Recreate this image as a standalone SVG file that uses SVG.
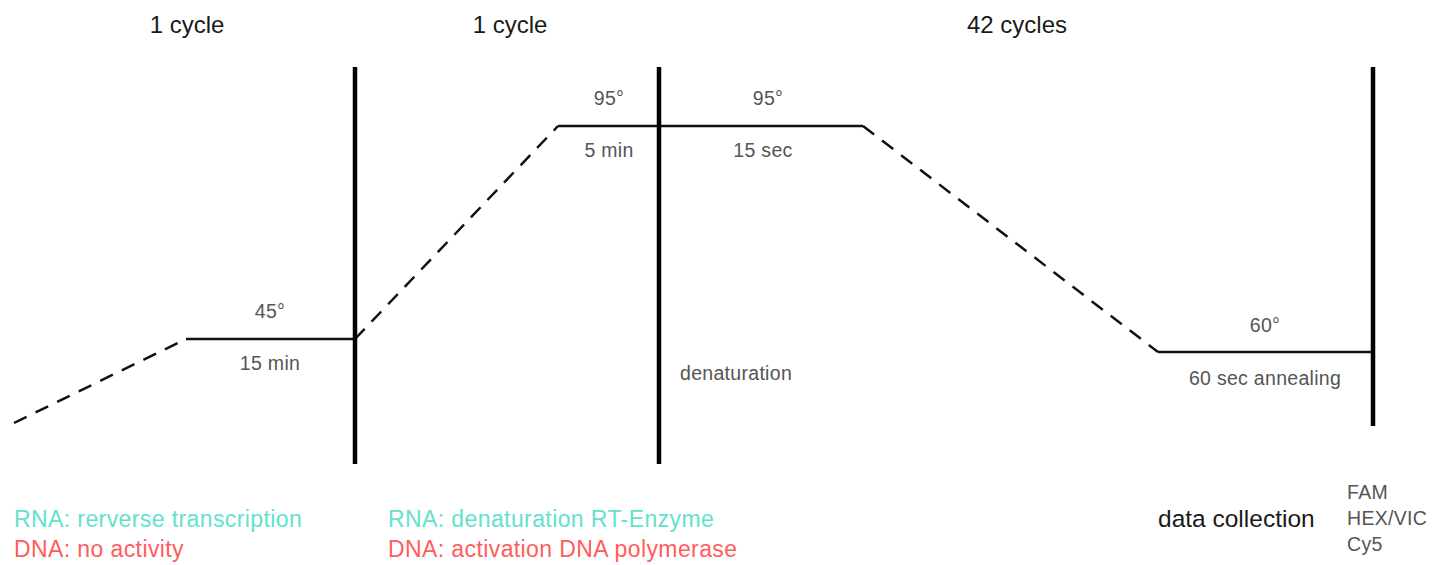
<svg xmlns="http://www.w3.org/2000/svg" width="1434" height="565" viewBox="0 0 1434 565">
<style>
.t{font-family:"Liberation Sans",Arial,sans-serif;}
.h{font-size:24px;fill:#1a1a1a;text-anchor:middle;}
.l{font-size:19.5px;fill:#555;text-anchor:middle;letter-spacing:0.3px;}
.ls{font-size:19.5px;fill:#555;letter-spacing:0.3px;}
.r{font-size:23px;fill:#62e2cd;letter-spacing:0.4px;}
.d{font-size:23px;fill:#ff5c5c;letter-spacing:0.4px;}
.dash{stroke:#111;stroke-width:2.5;stroke-dasharray:14 10;fill:none;}
.sol{stroke:#111;stroke-width:2.5;fill:none;}
.bar{stroke:#000;stroke-width:4.5;}
</style>
<g id="connectors">
<line class="dash" x1="14" y1="423" x2="186" y2="339"/>
<line class="dash" x1="355" y1="339" x2="558" y2="126"/>
<line class="dash" x1="863" y1="126" x2="1158" y2="352"/>
</g>
<g id="stage1">
<line class="sol" x1="186" y1="339" x2="355" y2="339"/>
<line class="bar" x1="355" y1="67" x2="355" y2="464"/>
<text class="t h" x="187" y="33">1 cycle</text>
<text class="t l" x="270" y="318">45°</text>
<text class="t l" x="270" y="370">15 min</text>
</g>
<g id="stage2">
<line class="sol" x1="558" y1="126" x2="863" y2="126"/>
<line class="bar" x1="659" y1="67" x2="659" y2="464"/>
<text class="t h" x="510" y="33">1 cycle</text>
<text class="t l" x="609" y="105">95°</text>
<text class="t l" x="609" y="157">5 min</text>
</g>
<g id="stage3">
<text class="t h" x="1017" y="33">42 cycles</text>
<text class="t l" x="768" y="105">95°</text>
<text class="t l" x="763" y="157">15 sec</text>
<text class="t ls" x="680" y="380">denaturation</text>
</g>
<g id="stage4">
<line class="sol" x1="1158" y1="352" x2="1373" y2="352"/>
<line class="bar" x1="1373" y1="67" x2="1373" y2="426"/>
<text class="t l" x="1265" y="332">60°</text>
<text class="t l" x="1265" y="385">60 sec annealing</text>
</g>
<g id="legend1">
<text class="t r" x="14" y="527">RNA: rerverse transcription</text>
<text class="t d" x="14" y="557">DNA: no activity</text>
</g>
<g id="legend2">
<text class="t r" x="388" y="527">RNA: denaturation RT-Enzyme</text>
<text class="t d" x="388" y="557">DNA: activation DNA polymerase</text>
</g>
<g id="datacollection">
<text class="t" x="1158" y="527" style="font-size:24.5px;fill:#1a1a1a">data collection</text>
<text class="t ls" x="1347" y="499">FAM</text>
<text class="t ls" x="1347" y="525">HEX/VIC</text>
<text class="t ls" x="1347" y="551">Cy5</text>
</g>
</svg>
